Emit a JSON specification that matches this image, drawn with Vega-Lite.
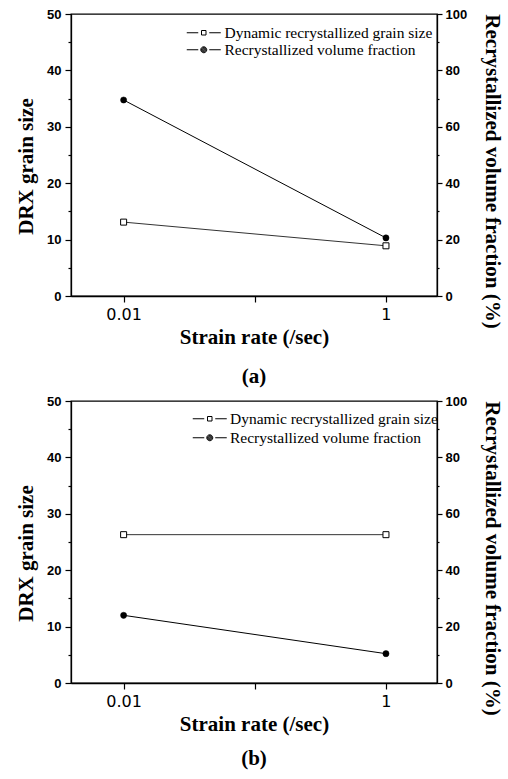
{
  "$schema": "https://vega.github.io/schema/vega-lite/v6.json",
  "background": "white",
  "padding": {"left": 14, "top": 7, "right": 5, "bottom": 5},
  "spacing": 6,
  "datasets": {
    "a": [
      {"rate": 0.01, "grain": 13.1, "fraction": 69.5},
      {"rate": 1, "grain": 8.9, "fraction": 20.6}
    ],
    "b": [
      {"rate": 0.01, "grain": 26.3, "fraction": 24.0},
      {"rate": 1, "grain": 26.3, "fraction": 10.4}
    ]
  },
  "config": {
    "view": {"stroke": "black", "strokeWidth": 1.3},
    "axis": {
      "grid": false,
      "domainColor": "black",
      "domainWidth": 1.3,
      "tickColor": "black",
      "tickWidth": 1.2,
      "labelColor": "black",
      "titleColor": "black",
      "titleFont": "Liberation Serif",
      "titleFontWeight": "bold",
      "titleFontSize": 21
    }
  },
  "resolve": {"scale": {"shape": "independent"}, "legend": {"shape": "independent"}},
  "vconcat": [
    {
      "width": 366,
      "height": 282,
      "data": {"name": "a"},
      "title": {"text": "(a)", "orient": "bottom", "anchor": "middle", "font": "Liberation Serif", "fontWeight": "bold", "fontSize": 21, "color": "black", "offset": 19},
      "encoding": {
        "x": {
          "field": "rate", "type": "quantitative",
          "scale": {"type": "log", "domain": [0.00397, 2.45]},
          "title": "Strain rate (/sec)",
          "axis": {"values": [0.01, 0.1, 1], "labelExpr": "datum.value == 0.1 ? '' : (datum.value == 1 ? '1' : '0.01')", "labelFont": "DejaVu Sans", "labelFontSize": 16, "tickSize": 6, "labelPadding": 4, "titlePadding": 4, "labelFlush": false, "labelOverlap": false}
        }
      },
      "layer": [
        {
          "encoding": {
            "y": {
              "field": "grain", "type": "quantitative",
              "scale": {"domain": [0, 50]},
              "title": "DRX grain size",
              "axis": {"orient": "left", "values": [0, 5, 10, 15, 20, 25, 30, 35, 40, 45, 50], "labelExpr": "datum.value % 10 === 0 ? datum.label : ''", "tickSize": {"condition": {"test": "datum.value % 10 === 0", "value": 6}, "value": 3}, "labelFont": "Liberation Sans", "labelFontWeight": "bold", "labelFontSize": 13, "labelPadding": 4, "titlePadding": 10, "titleY": 152}
            }
          },
          "layer": [
            {"mark": {"type": "line", "color": "#333333", "strokeWidth": 1}},
            {"mark": {"type": "point", "shape": "square", "filled": true, "fill": "white", "stroke": "black", "strokeWidth": 1, "size": 36, "opacity": 1}}
          ]
        },
        {
          "encoding": {
            "y": {
              "field": "fraction", "type": "quantitative",
              "scale": {"domain": [0, 100]},
              "title": "Recrystallized volume fraction (%)",
              "axis": {"orient": "right", "values": [0, 10, 20, 30, 40, 50, 60, 70, 80, 90, 100], "labelExpr": "datum.value % 20 === 0 ? datum.label : ''", "tickSize": {"condition": {"test": "datum.value % 20 === 0", "value": 5}, "value": 2}, "labelFont": "Liberation Sans", "labelFontWeight": "bold", "labelFontSize": 13, "labelPadding": 3, "titlePadding": 15, "titleY": 157}
            }
          },
          "layer": [
            {"mark": {"type": "line", "color": "black", "strokeWidth": 1}},
            {"mark": {"type": "point", "shape": "circle", "filled": true, "fill": "black", "stroke": "black", "strokeWidth": 0.5, "size": 38, "opacity": 1}}
          ]
        },
        {
          "transform": [{"filter": "false"}],
          "mark": {"type": "point", "filled": false, "stroke": "black", "strokeWidth": 1},
          "encoding": {
            "shape": {
              "datum": "Dynamic recrystallized grain size", "type": "nominal",
              "scale": {"domain": ["Dynamic recrystallized grain size", "Recrystallized volume fraction"], "range": ["M-3.4,0H-1.1M-0.45,-0.45H0.45V0.45H-0.45ZM1.1,0H3.4", "M-3.4,0H-1.1M1.1,0H3.4M-0.6,0A0.6,0.6 0 1,1 0.6,0A0.6,0.6 0 1,1 -0.6,0ZM-0.45,0A0.45,0.45 0 1,1 0.45,0A0.45,0.45 0 1,1 -0.45,0ZM-0.3,0A0.3,0.3 0 1,1 0.3,0A0.3,0.3 0 1,1 -0.3,0ZM-0.15,0A0.15,0.15 0 1,1 0.15,0A0.15,0.15 0 1,1 -0.15,0Z"]},
              "legend": {"orient": "none", "legendX": 125, "legendY": 11, "title": null, "padding": 0, "labelFont": "Liberation Serif", "labelFontSize": 15.5, "labelColor": "black", "labelOffset": 13, "labelLimit": 400, "rowPadding": 0, "symbolSize": 100, "symbolStrokeColor": "black", "symbolStrokeWidth": 1, "symbolOpacity": 1}
            }
          }
        }
      ],
      "resolve": {"scale": {"y": "independent"}}
    },
    {
      "width": 366,
      "height": 282,
      "data": {"name": "b"},
      "title": {"text": "(b)", "orient": "bottom", "anchor": "middle", "font": "Liberation Serif", "fontWeight": "bold", "fontSize": 21, "color": "black", "offset": 14},
      "encoding": {
        "x": {
          "field": "rate", "type": "quantitative",
          "scale": {"type": "log", "domain": [0.00397, 2.45]},
          "title": "Strain rate (/sec)",
          "axis": {"values": [0.01, 0.1, 1], "labelExpr": "datum.value == 0.1 ? '' : (datum.value == 1 ? '1' : '0.01')", "labelFont": "DejaVu Sans", "labelFontSize": 16, "tickSize": 6, "labelPadding": 4, "titlePadding": 4, "labelFlush": false, "labelOverlap": false}
        }
      },
      "layer": [
        {
          "encoding": {
            "y": {
              "field": "grain", "type": "quantitative",
              "scale": {"domain": [0, 50]},
              "title": "DRX grain size",
              "axis": {"orient": "left", "values": [0, 5, 10, 15, 20, 25, 30, 35, 40, 45, 50], "labelExpr": "datum.value % 10 === 0 ? datum.label : ''", "tickSize": {"condition": {"test": "datum.value % 10 === 0", "value": 6}, "value": 3}, "labelFont": "Liberation Sans", "labelFontWeight": "bold", "labelFontSize": 13, "labelPadding": 4, "titlePadding": 10, "titleY": 152}
            }
          },
          "layer": [
            {"mark": {"type": "line", "color": "#333333", "strokeWidth": 1}},
            {"mark": {"type": "point", "shape": "square", "filled": true, "fill": "white", "stroke": "black", "strokeWidth": 1, "size": 36, "opacity": 1}}
          ]
        },
        {
          "encoding": {
            "y": {
              "field": "fraction", "type": "quantitative",
              "scale": {"domain": [0, 100]},
              "title": "Recrystallized volume fraction (%)",
              "axis": {"orient": "right", "values": [0, 10, 20, 30, 40, 50, 60, 70, 80, 90, 100], "labelExpr": "datum.value % 20 === 0 ? datum.label : ''", "tickSize": {"condition": {"test": "datum.value % 20 === 0", "value": 5}, "value": 2}, "labelFont": "Liberation Sans", "labelFontWeight": "bold", "labelFontSize": 13, "labelPadding": 3, "titlePadding": 15, "titleY": 157}
            }
          },
          "layer": [
            {"mark": {"type": "line", "color": "black", "strokeWidth": 1}},
            {"mark": {"type": "point", "shape": "circle", "filled": true, "fill": "black", "stroke": "black", "strokeWidth": 0.5, "size": 38, "opacity": 1}}
          ]
        },
        {
          "transform": [{"filter": "false"}],
          "mark": {"type": "point", "filled": false, "stroke": "black", "strokeWidth": 1},
          "encoding": {
            "shape": {
              "datum": "Dynamic recrystallized grain size", "type": "nominal",
              "scale": {"domain": ["Dynamic recrystallized grain size", "Recrystallized volume fraction"], "range": ["M-3.4,0H-1.1M-0.45,-0.45H0.45V0.45H-0.45ZM1.1,0H3.4", "M-3.4,0H-1.1M1.1,0H3.4M-0.6,0A0.6,0.6 0 1,1 0.6,0A0.6,0.6 0 1,1 -0.6,0ZM-0.45,0A0.45,0.45 0 1,1 0.45,0A0.45,0.45 0 1,1 -0.45,0ZM-0.3,0A0.3,0.3 0 1,1 0.3,0A0.3,0.3 0 1,1 -0.3,0ZM-0.15,0A0.15,0.15 0 1,1 0.15,0A0.15,0.15 0 1,1 -0.15,0Z"]},
              "legend": {"orient": "none", "legendX": 131, "legendY": 10, "title": null, "padding": 0, "labelFont": "Liberation Serif", "labelFontSize": 15.5, "labelColor": "black", "labelOffset": 12.5, "labelLimit": 400, "rowPadding": 2, "symbolSize": 100, "symbolStrokeColor": "black", "symbolStrokeWidth": 1, "symbolOpacity": 1}
            }
          }
        }
      ],
      "resolve": {"scale": {"y": "independent"}}
    }
  ]
}
